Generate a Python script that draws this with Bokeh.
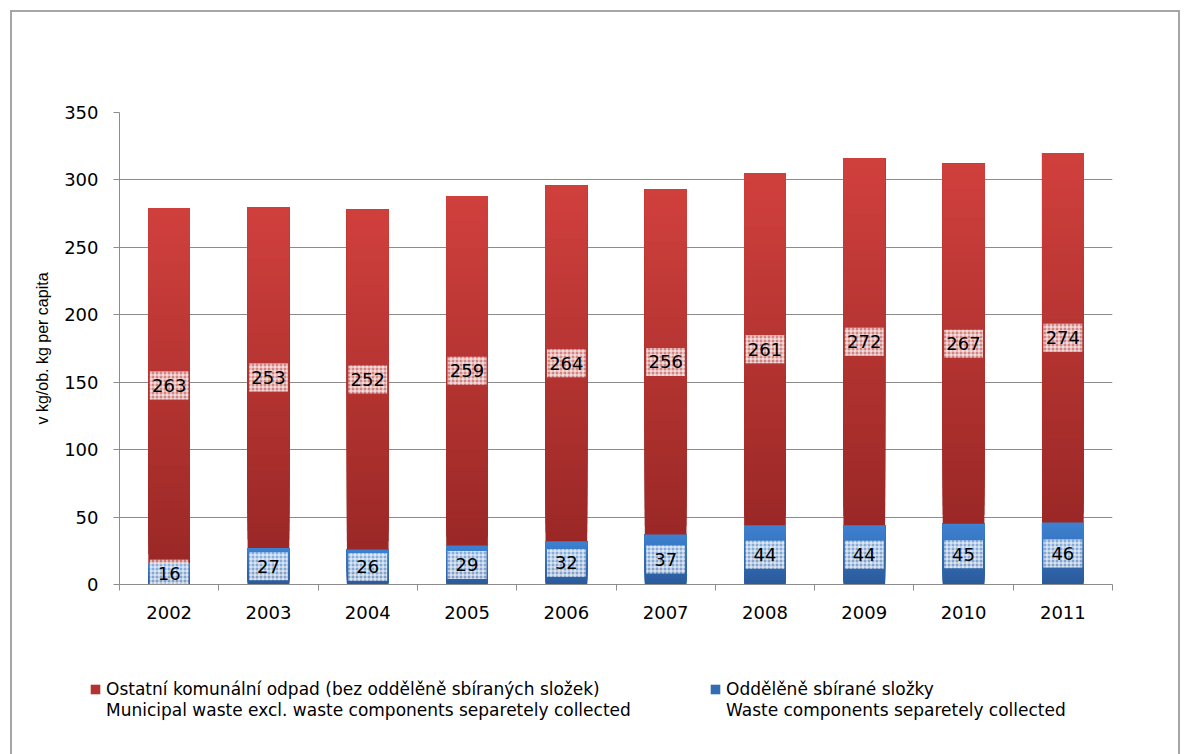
import numpy as np
from bokeh.plotting import figure
from bokeh.layouts import column
from bokeh.models import (ColumnDataSource, FixedTicker, Legend, LegendItem, Range1d)
from bokeh.core.properties import value
from bokeh.embed import file_html
from bokeh.resources import INLINE

# ---- data ----
years = ["2002", "2003", "2004", "2005", "2006", "2007", "2008", "2009", "2010", "2011"]
separated = [16, 27, 26, 29, 32, 37, 44, 44, 45, 46]          # Oddělěně sbírané složky
other = [263, 253, 252, 259, 264, 256, 261, 272, 267, 274]    # Ostatní komunální odpad
y_ticks = [0, 50, 100, 150, 200, 250, 300, 350]
name_other = ["Ostatní komunální odpad (bez oddělěně sbíraných složek)",
              "Municipal waste excl. waste components separetely collected"]
name_sep = ["Oddělěně sbírané složky",
            "Waste components separetely collected"]
y_label = "v kg/ob. kg per capita"

FONT = "DejaVu Sans"
LFONT = "Liberation Sans"
GRAY = "#8c8c8c"
RED_BOT, RED_TOP = "#9a2826", "#d0403d"
BLUE_BOT, BLUE_TOP = "#2a5a9b", "#3e82d2"

xs = np.arange(1, len(years) + 1)
sep = np.array(separated, dtype=float)
oth = np.array(other, dtype=float)


def hexmix(c1, c2, t):
    a = [int(c1[i:i + 2], 16) for i in (1, 3, 5)]
    b = [int(c2[i:i + 2], 16) for i in (1, 3, 5)]
    return "#%02x%02x%02x" % tuple(int(round(a[k] + (b[k] - a[k]) * t)) for k in range(3))


def gradient_source(bottoms, tops, c_bot, c_top, n=40):
    # overlapping slices (each reaches the segment top) -> smooth vertical gradient, no seams
    d = dict(x=[], b=[], t=[], c=[])
    for k in range(n):
        for xi, b0, t0 in zip(xs, bottoms, tops):
            d["x"].append(xi)
            d["b"].append(b0 + (t0 - b0) * k / n)
            d["t"].append(t0)
            d["c"].append(hexmix(c_bot, c_top, (k + 0.5) / n))
    return ColumnDataSource(d)


W = 1166
p = figure(width=W, height=620, x_range=Range1d(0.5, 10.5), y_range=Range1d(0, 350),
           output_backend="svg", toolbar_location=None,
           min_border_left=107, min_border_right=66, min_border_top=100, min_border_bottom=48)
p.outline_line_color = None
p.background_fill_color = "white"
p.border_fill_color = "white"

BAR_W = 0.42
N = 40
src_sep = gradient_source(np.zeros_like(sep), sep, BLUE_BOT, BLUE_TOP, N)
src_oth = gradient_source(sep, sep + oth, RED_BOT, RED_TOP, N)
p.vbar(x="x", bottom="b", top="t", width=BAR_W, source=src_sep, fill_color="c", line_color=None)
p.vbar(x="x", bottom="b", top="t", width=BAR_W, source=src_oth, fill_color="c", line_color=None)

# value labels with hatched light box
lab = ColumnDataSource(dict(
    x=np.concatenate([xs, xs]),
    y=np.concatenate([sep / 2.0, sep + oth / 2.0]),
    t=[str(v) for v in separated] + [str(v) for v in other],
))
p.rect(x="x", y="y", width=0.39, height=28, height_units="screen", source=lab,
       fill_color="white", fill_alpha=0.4, line_color=None,
       hatch_pattern="+", hatch_color="white", hatch_scale=4, hatch_weight=1, hatch_alpha=0.9)
p.text(x="x", y="y", text="t", source=lab, text_align="center", text_baseline="middle",
       text_font=value(FONT), text_font_size="18px", text_color="black")

# axes
p.yaxis.ticker = FixedTicker(ticks=y_ticks)
p.yaxis.major_tick_out = 6
p.yaxis.major_tick_in = 0
p.yaxis.minor_tick_out = 0
p.yaxis.minor_tick_in = 0
p.yaxis.axis_line_color = GRAY
p.yaxis.major_tick_line_color = GRAY
p.yaxis.major_label_text_font = FONT
p.yaxis.major_label_text_font_size = "18px"
p.yaxis.major_label_text_color = "black"
p.yaxis.major_label_standoff = 15
p.yaxis.axis_label = y_label
p.yaxis.axis_label_text_font = LFONT
p.yaxis.axis_label_text_font_size = "16px"
p.yaxis.axis_label_text_font_style = "normal"
p.yaxis.axis_label_text_color = "black"
p.yaxis.axis_label_standoff = 10

p.xaxis.ticker = FixedTicker(ticks=list(xs), minor_ticks=list(np.arange(0.5, len(years) + 1, 1.0)))
p.xaxis.major_label_overrides = {int(i): y for i, y in zip(xs, years)}
p.xaxis.major_tick_out = 0
p.xaxis.major_tick_in = 0
p.xaxis.minor_tick_out = 6
p.xaxis.minor_tick_in = 0
p.xaxis.minor_tick_line_color = GRAY
p.xaxis.axis_line_color = GRAY
p.xaxis.major_label_text_font = FONT
p.xaxis.major_label_text_font_size = "18px"
p.xaxis.major_label_text_color = "black"
p.xaxis.major_label_standoff = 15

p.xgrid.visible = False
p.ygrid.ticker = FixedTicker(ticks=y_ticks)
p.ygrid.grid_line_color = GRAY
p.ygrid.grid_line_width = 1

# legend strip below the chart (its own frame spans the full width)
QH = 122
q = figure(width=W, height=QH, x_range=Range1d(0, W), y_range=Range1d(0, QH),
           output_backend="svg", toolbar_location=None, frame_align=False,
           min_border_left=0, min_border_right=0, min_border_top=0, min_border_bottom=0)
q.axis.visible = False
q.grid.visible = False
q.outline_line_color = None
q.background_fill_color = "white"
q.border_fill_color = "white"
# legend key glyphs (kept outside the visible range; only their swatches are shown)
k_oth = q.vbar(x=[-100], top=[-100], width=1, fill_color=hexmix(RED_BOT, RED_TOP, 0.45), line_color=None)
k_sep = q.vbar(x=[-100], top=[-100], width=1, fill_color=hexmix(BLUE_BOT, BLUE_TOP, 0.45), line_color=None)
k_none = q.vbar(x=[-100], top=[-100], width=1, fill_alpha=0, line_alpha=0)
for rend, names, loc in [(k_oth, name_other, (77, 34)), (k_sep, name_sep, (697, 34))]:
    lg = Legend(items=[LegendItem(label=names[0], renderers=[rend]),
                       LegendItem(label=names[1], renderers=[k_none])],
                location=loc, orientation="vertical", padding=0, margin=0, spacing=0,
                border_line_color=None, background_fill_alpha=0,
                glyph_width=12, glyph_height=12, label_standoff=5, label_height=21,
                label_text_font=FONT, label_text_font_size="17px", label_text_color="black")
    q.add_layout(lg, "center")

layout = column(p, q, spacing=0,
                styles={"margin-left": "10px", "margin-top": "10px",
                        "border": "2px solid #a6a6a6", "border-bottom": "none"})

open("out.html", "w").write(file_html(layout, INLINE))
